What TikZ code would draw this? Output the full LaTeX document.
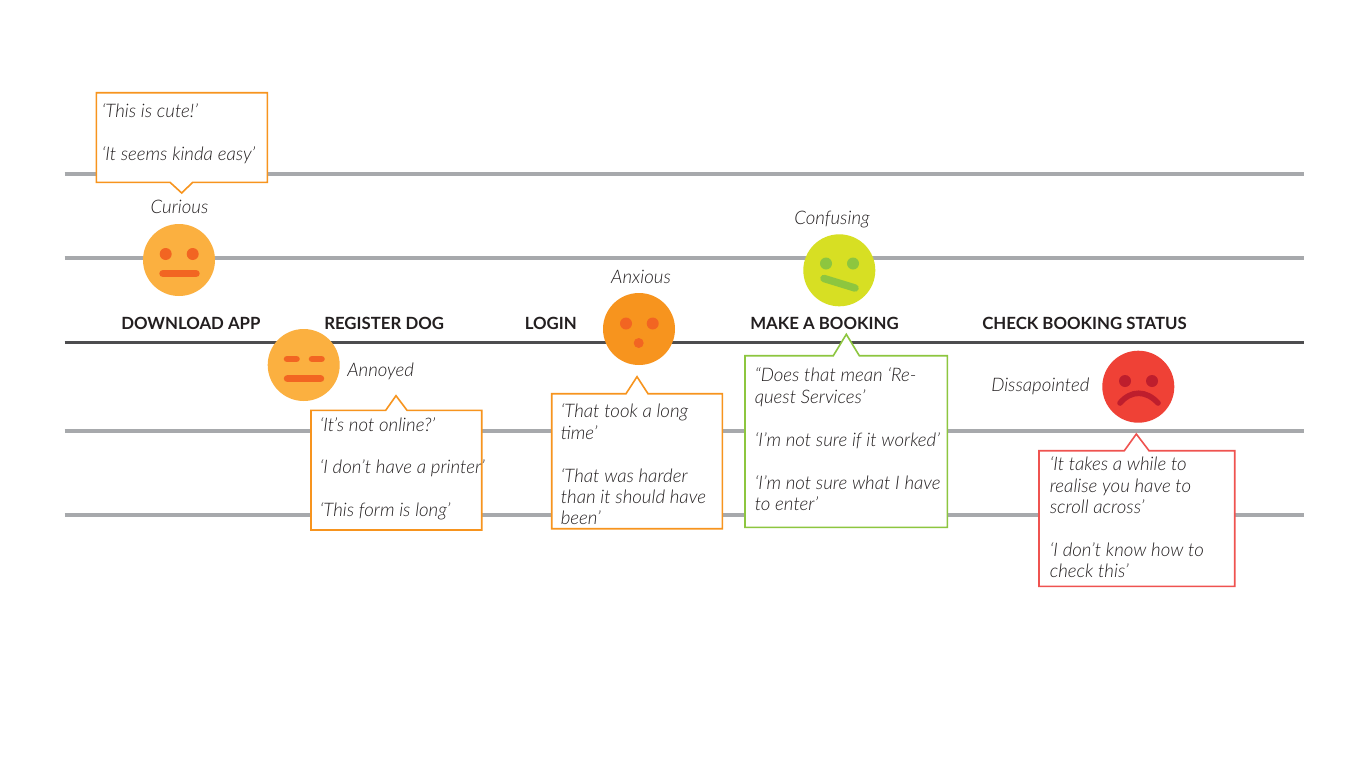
\documentclass[tikz,border=0pt]{standalone}
\usepackage{fontspec}
\setmainfont{Lato}
\newfontfamily\lightface[ItalicFont={Lato Light Italic}]{Lato Light}
\definecolor{inkc}{HTML}{231F20}
\definecolor{railc}{HTML}{A7A9AC}
\definecolor{axisc}{HTML}{4D4D4F}
\definecolor{softor}{HTML}{FBB040}
\definecolor{deepor}{HTML}{F26522}
\definecolor{midor}{HTML}{F7941E}
\definecolor{limec}{HTML}{D7DF23}
\definecolor{leafc}{HTML}{8DC63F}
\definecolor{redc}{HTML}{EF4136}
\definecolor{redb}{HTML}{EF5350}
\definecolor{darkred}{HTML}{BE1E2D}
\tikzset{
  x=0.75pt,y=-0.75pt,
  rail/.style={draw=railc,line width=2.4pt},
  axisline/.style={draw=axisc,line width=2.7pt},
  bubble/.style={fill=white,line width=1.2pt,line join=miter},
  quote/.style={anchor=north west,inner sep=0pt,align=left,text=inkc,font=\lightface\fontsize{14pt}{16.1pt}\selectfont\itshape},
  mood/.style={anchor=base,inner sep=0pt,text=inkc,font=\lightface\fontsize{14pt}{16.1pt}\selectfont\itshape},
  moodl/.style={mood,anchor=base west},
  stage/.style={anchor=base west,inner sep=0pt,text=inkc,font=\fontsize{12.6pt}{16.1pt}\selectfont\bfseries},
  facepart/.style={line cap=round,line width=#1},
}
\newcommand{\sk}{\\[16.1pt]}
\begin{document}
\begin{tikzpicture}
\useasboundingbox (0,0) rectangle (1366,768);
\fill[white] (0,0) rectangle (1366,768);
% rails
\coordinate (r1a) at (64.5,174); \coordinate (r1b) at (1304,174);
\coordinate (r2a) at (64.5,258); \coordinate (r2b) at (1304,258);
\coordinate (axa) at (64.5,342.5); \coordinate (axb) at (1304,342.5);
\coordinate (r3a) at (64.5,431); \coordinate (r3b) at (1304,431);
\coordinate (r4a) at (64.5,515); \coordinate (r4b) at (1304,515);
\draw[rail] (r1a) -- (r1b);
\draw[rail] (r2a) -- (r2b);
\draw[rail] (r3a) -- (r3b);
\draw[rail] (r4a) -- (r4b);
\draw[axisline] (axa) -- (axb);
% stage titles
\node[stage] (s1) at (121,329) {DOWNLOAD APP};
\node[stage] (s2) at (324,329) {REGISTER DOG};
\node[stage] (s3) at (524.5,329) {LOGIN};
\node[stage] (s4) at (750,329) {MAKE A BOOKING};
\node[stage] (s5) at (982,329) {CHECK BOOKING STATUS};
% face 1
\fill[softor] (179,260) circle (36);
\fill[deepor] (165.7,254) circle (6) (192.7,254) circle (6);
\draw[deepor,facepart=5.6] (163,273.7) -- (196,273.7);
% face 2
\fill[softor] (303.7,365) circle (36);
\draw[deepor,facepart=4.9] (287,359) -- (296.5,359);
\draw[deepor,facepart=4.9] (312,359) -- (321.5,359);
\draw[deepor,facepart=5.6] (287.5,378.7) -- (320.5,378.7);
% face 3
\fill[midor] (639,329) circle (36);
\fill[deepor] (626,323.5) circle (6) (652.7,323.5) circle (6) (638.7,343) circle (5);
% face 4
\fill[limec] (839.3,270.3) circle (36);
\fill[leafc] (826,263.5) circle (6) (853,263.5) circle (6);
\draw[leafc,facepart=5.6] (824,278.5) -- (855,288);
% face 5
\fill[redc] (1138.3,386.7) circle (36);
\fill[darkred] (1125,381) circle (6) (1152,381) circle (6);
\draw[darkred,facepart=4.2] (1120,403) .. controls (1131,390) and (1146,390) .. (1158,403);
% bubbles
\draw[bubble,draw=midor] (96.3,92.7) -- (267.3,92.7) -- (267.3,182.3) -- (192.7,182.3) -- (181.7,193) -- (170,182.3) -- (96.3,182.3) -- cycle;
\draw[bubble,draw=midor] (311,410.3) -- (385.7,410.3) -- (396,395.7) -- (407,410.3) -- (481.7,410.3) -- (481.7,530) -- (311,530) -- cycle;
\draw[bubble,draw=midor] (551.7,393.7) -- (626,393.7) -- (637,376.7) -- (648,393.7) -- (722.3,393.7) -- (722.3,528.7) -- (551.7,528.7) -- cycle;
\draw[bubble,draw=leafc] (745,355.7) -- (833.3,355.7) -- (846.3,334.3) -- (859.3,355.7) -- (947.3,355.7) -- (947.3,527.3) -- (745,527.3) -- cycle;
\draw[bubble,draw=redb] (1039,450.7) -- (1124.3,450.7) -- (1136.3,434) -- (1149,450.7) -- (1234.7,450.7) -- (1234.7,586.3) -- (1039,586.3) -- cycle;
% moods
\node[mood] (m1) at (179.5,213) {Curious};
\node[moodl] (m2) at (347,376) {Annoyed};
\node[mood] (m3) at (641,283) {Anxious};
\node[mood] (m4) at (832,224) {Confusing};
\node[moodl] (m5) at (991,391) {Dissapointed};
% quotes
\node[quote] (q1) at (101.5,102) {\strut ‘This is cute!’\sk ‘It seems kinda easy’};
\node[quote] (q2) at (319.5,415.7) {\strut ‘It’s not online?’\sk ‘I don’t have a printer’\sk ‘This form is long’};
\node[quote] (q3) at (560.5,402.3) {\strut ‘That took a long\\ time’\sk ‘That was harder\\ than it should have\\ been’};
\node[quote] (q4) at (754.5,366.5) {\strut “Does that mean ‘Re-\\ quest Services’\sk ‘I’m not sure if it worked’\sk ‘I’m not sure what I have\\ to enter’};
\node[quote] (q5) at (1049.5,455.3) {\strut ‘It takes a while to\\ realise you have to\\ scroll across’\sk ‘I don’t know how to\\ check this’};
\end{tikzpicture}
\end{document}
